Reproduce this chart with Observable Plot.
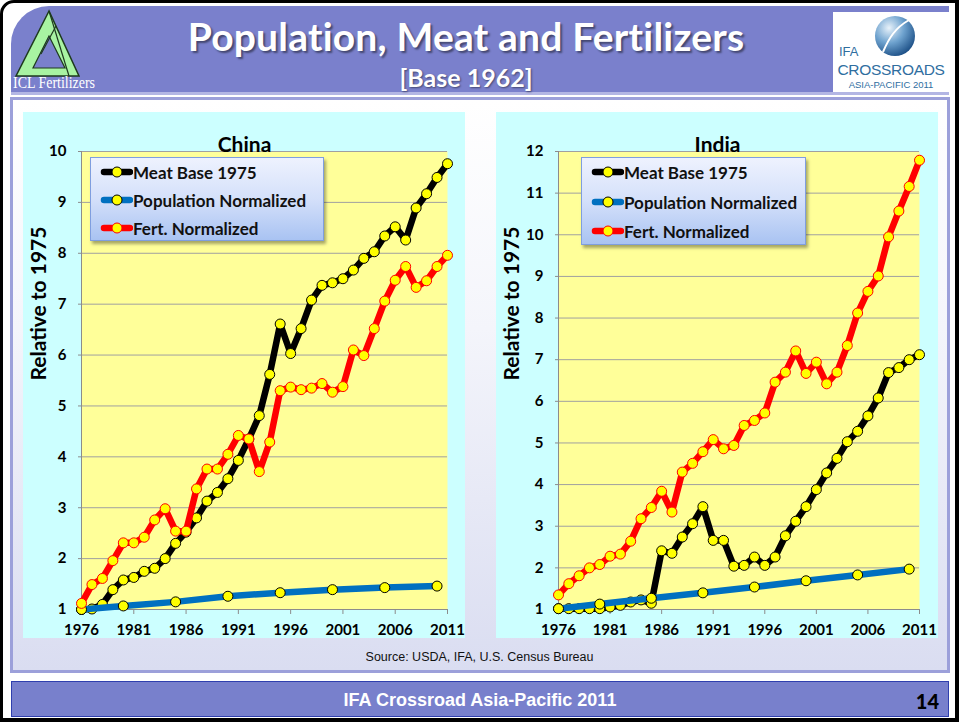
<!DOCTYPE html>
<html>
<head>
<meta charset="utf-8">
<script src="https://cdn.jsdelivr.net/npm/d3@7"></script>
<script src="https://cdn.jsdelivr.net/npm/@observablehq/plot@0.6"></script>
<style>
  html, body { margin: 0; padding: 0; background: #fff; }
  #page { position: relative; width: 959px; height: 722px; overflow: hidden; background: #fff; }
  #frame { position: absolute; left: 0; top: 0; width: 959px; height: 722px; box-sizing: border-box;
           border: 3px solid #000; border-right-width: 4px; border-bottom-width: 4px; border-top-left-radius: 14px; }
  #header { position: absolute; left: 11px; top: 6px; width: 938px; height: 86px; background: #7A80CC;
            border-top-left-radius: 38px; border-bottom: 3px solid #B3B6E4; }
  #title { position: absolute; left: 0; width: 910px; top: 7px; text-align: center; color: #fff;
           font-family: Lato, sans-serif; font-weight: 700; font-size: 39px; letter-spacing: 0.2px; text-shadow: 2px 2px 2px rgba(0,0,0,0.45); }
  #subtitle { position: absolute; left: 0; width: 910px; top: 56px; text-align: center; color: #fff;
           font-family: Lato, sans-serif; font-weight: 700; font-size: 25px; text-shadow: 1px 1px 2px rgba(0,0,0,0.45); }
  #content { position: absolute; left: 10px; top: 97px; width: 940px; height: 576px; box-sizing: border-box;
             border: 3px solid #9CA0DA; background: linear-gradient(to bottom, #ffffff 0%, #f4f5fb 40%, #DADDF1 100%); }
  .panel { position: absolute; top: 112px; }
  .legend { position: absolute; box-sizing: border-box; border: 1px solid #7F9EDF;
            background: linear-gradient(to bottom, #EEF2FE 0%, #D4E0FA 50%, #A9C3F2 100%);
            box-shadow: 2px 3px 3px rgba(0,0,0,0.35); font-family: Lato, sans-serif; font-weight: 700; font-size: 17px; color: #111; }
  .legend .row { position: absolute; left: 9px; height: 20px; display: flex; align-items: center; white-space: nowrap; }
  #source { position: absolute; left: 0; width: 959px; top: 650px; text-align: center;
            font-family: "Liberation Sans", Arial, sans-serif; font-size: 12.5px; color: #111; }
  #footer { position: absolute; left: 11px; top: 681px; width: 938px; height: 36px; box-sizing: border-box;
            background: #7880CC; border: 1px solid #2F3FAE; }
  #footer .t { position: absolute; left: 0; width: 936px; top: 8px; text-align: center; color: #fff;
               font-family: "Liberation Sans", Arial, sans-serif; font-weight: 700; font-size: 18px; }
  #footer .n { position: absolute; right: 9px; top: 7px; color: #000; font-family: Lato, sans-serif; font-weight: 900; font-size: 20px; }
</style>
</head>
<body>
<div id="page">
  <div id="header">
    <svg style="position:absolute;left:0;top:0" width="100" height="86">
      <polygon points="38,5 5,70 68,70" fill="#A8F3A2" stroke="#1E3A1E" stroke-width="1.5"/>
      <polygon points="38,30 22,62 54,62" fill="#7A80CC" stroke="#1E3A1E" stroke-width="1.2"/>
      <line x1="38" y1="5" x2="58" y2="70" stroke="#1E3A1E" stroke-width="1.2"/>
      <line x1="45" y1="20" x2="30" y2="48" stroke="#1E3A1E" stroke-width="1.2"/>
      <text x="2" y="82" fill="#fff" font-family="'Liberation Serif', serif" font-size="16" textLength="82" lengthAdjust="spacingAndGlyphs">ICL Fertilizers</text>
    </svg>
    <div id="title">Population, Meat and Fertilizers</div>
    <div id="subtitle">[Base 1962]</div>
    <svg style="position:absolute;left:822px;top:6px" width="116" height="80">
      <defs>
        <radialGradient id="glob" cx="35%" cy="30%" r="75%">
          <stop offset="0" stop-color="#E8F2FA"/>
          <stop offset="0.5" stop-color="#6FA3CF"/>
          <stop offset="1" stop-color="#1C4F86"/>
        </radialGradient>
      </defs>
      <rect x="0" y="0" width="116" height="80" fill="#fff"/>
      <circle cx="62" cy="24" r="20" fill="url(#glob)"/>
      <path d="M50,40 C56,26 62,16 76,8" stroke="#fff" stroke-width="2" fill="none"/>
      <text x="6" y="44" fill="#2F6E9F" font-family="'Liberation Sans', Arial, sans-serif" font-size="13">IFA</text>
      <text x="58" y="63" text-anchor="middle" fill="#2F6E9F" font-family="'Liberation Sans', Arial, sans-serif" font-size="15.5" letter-spacing="-0.3">CROSSROADS</text>
      <text x="58" y="76" text-anchor="middle" fill="#2F6E9F" font-family="'Liberation Sans', Arial, sans-serif" font-size="9.5">ASIA-PACIFIC 2011</text>
    </svg>
  </div>
  <div id="content"></div>
  <div id="chinaPanel" class="panel" style="left:23px"></div>
  <div id="indiaPanel" class="panel" style="left:496px"></div>
  <div id="source">Source: USDA, IFA, U.S. Census Bureau</div>
  <div id="footer"><div class="t">IFA Crossroad Asia-Pacific 2011</div><div class="n">14</div></div>
  <div id="frame"></div>
</div>
<script>
// ---- data ----
const years = [1976,1977,1978,1979,1980,1981,1982,1983,1984,1985,1986,1987,1988,1989,1990,1991,1992,1993,
               1994,1995,1996,1997,1998,1999,2000,2001,2002,2003,2004,2005,2006,2007,2008,2009,2010,2011];
const popYears = [1976,1980,1985,1990,1995,2000,2005,2010];
const xTickYears = [1976,1981,1986,1991,1996,2001,2006,2011];
const seriesNames = ["Meat Base 1975","Population Normalized","Fert. Normalized"];

const chinaMeat = [1.0,1.01,1.1,1.39,1.58,1.63,1.75,1.81,2.0,2.3,2.52,2.8,3.13,3.3,3.57,3.93,4.35,4.81,
                   5.62,6.61,6.03,6.52,7.08,7.37,7.42,7.5,7.67,7.9,8.03,8.34,8.52,8.26,8.89,9.17,9.49,9.76];
const chinaFert = [1.12,1.49,1.61,1.96,2.31,2.31,2.42,2.76,2.98,2.54,2.54,3.37,3.76,3.76,4.05,4.42,4.35,3.71,
                   4.29,5.3,5.37,5.32,5.35,5.44,5.27,5.38,6.1,5.99,6.52,7.06,7.47,7.74,7.33,7.46,7.74,7.96];
const chinaPop  = [1.0,1.07,1.15,1.26,1.33,1.39,1.43,1.46];
const chinaYTicks = [1,2,3,4,5,6,7,8,9,10];

const indiaMeat = [1.02,1.02,1.02,1.02,1.02,1.06,1.1,1.18,1.23,1.15,2.41,2.35,2.74,3.06,3.47,2.66,2.66,2.04,
                   2.06,2.26,2.06,2.26,2.77,3.12,3.47,3.88,4.28,4.63,5.03,5.28,5.65,6.08,6.69,6.81,7.0,7.12];
const indiaFert = [1.35,1.62,1.81,2.0,2.08,2.28,2.33,2.64,3.18,3.45,3.84,3.34,4.3,4.51,4.79,5.08,4.86,4.94,
                   5.42,5.54,5.72,6.46,6.7,7.21,6.67,6.94,6.42,6.7,7.34,8.12,8.64,9.01,9.95,10.57,11.16,11.79];
const indiaPop  = [1.02,1.13,1.27,1.4,1.54,1.69,1.83,1.97];
const indiaYTicks = [1,2,3,4,5,6,7,8,9,10,11,12];

const colors = {meat: "#000000", pop: "#0070C0", fert: "#FF0000"};
const markerStroke = {meat: "#000000", pop: "#000000", fert: "#FF0000"};

function panel(title, meat, pop, fert, yTicks, ml, mr, yLabelDx) {
  const meatD = years.map((x, i) => ({x, y: meat[i]}));
  const fertD = years.map((x, i) => ({x, y: fert[i]}));
  const popD = popYears.map((x, i) => ({x, y: pop[i]}));
  const W = 442, H = 526;
  const plotCenterShift = ((ml + (W - mr)) / 2) - W / 2;
  const lineOpts = (c) => ({x: "x", y: "y", stroke: c, strokeWidth: 6.5, strokeLinejoin: "round", strokeLinecap: "round"});
  const dotOpts = (s) => ({x: "x", y: "y", r: 5, fill: "#FFFF00", stroke: s, strokeWidth: 1});
  return Plot.plot({
    width: W, height: H,
    marginLeft: ml, marginRight: mr, marginTop: 39, marginBottom: 29,
    style: {background: "#CCFFFF", fontFamily: "Lato, sans-serif", fontWeight: "bold", fontSize: "15px", color: "#000", overflow: "visible"},
    x: {domain: [years[0], years[years.length - 1]], label: null},
    y: {domain: [yTicks[0], yTicks[yTicks.length - 1]], label: null},
    marks: [
      Plot.frame({fill: "#FFFF99", stroke: null}),
      Plot.gridY(yTicks, {stroke: "#A0A0A0", strokeOpacity: 1, strokeWidth: 1}),
      Plot.ruleX([years[0]], {stroke: "#8C8C8C", strokeWidth: 1}),
      Plot.ruleY([yTicks[0]], {stroke: "#8C8C8C", strokeWidth: 1}),
      Plot.axisX(xTickYears, {tickSize: 5, tickPadding: 10, tickFormat: d => String(d), stroke: "#8C8C8C", fill: "#000", label: null}),
      Plot.axisY(yTicks, {tickSize: 3, tickPadding: 12, tickFormat: d => String(d), stroke: "#8C8C8C", fill: "#000", label: null}),
      Plot.line(meatD, lineOpts(colors.meat)),
      Plot.dot(meatD, dotOpts(markerStroke.meat)),
      Plot.line(popD, lineOpts(colors.pop)),
      Plot.dot(popD, dotOpts(markerStroke.pop)),
      Plot.line(fertD, lineOpts(colors.fert)),
      Plot.dot(fertD, dotOpts(markerStroke.fert)),
      Plot.text([title], {frameAnchor: "top", dx: -plotCenterShift, dy: -14, fontSize: 21, fontWeight: "bold", fill: "#000"}),
      Plot.text(["Relative to 1975"], {frameAnchor: "left", dx: yLabelDx, rotate: -90, fontSize: 21, fontWeight: "bold", fill: "#000"})
    ]
  });
}

function legend(parent, left, top, width, height, rowTops) {
  const box = document.createElement("div");
  box.className = "legend";
  Object.assign(box.style, {left: left + "px", top: top + "px", width: width + "px", height: height + "px"});
  const keys = ["meat", "pop", "fert"];
  keys.forEach((k, i) => {
    const row = document.createElement("div");
    row.className = "row";
    row.style.top = rowTops[i] + "px";
    row.innerHTML = `<svg width="33" height="14"><line x1="4" y1="7" x2="30" y2="7" stroke="${colors[k]}" stroke-width="6.5" stroke-linecap="round"/>` +
      `<circle cx="17" cy="7" r="5" fill="#FFFF00" stroke="${markerStroke[k]}" stroke-width="1"/></svg><span>${seriesNames[i]}</span>`;
    box.appendChild(row);
  });
  parent.appendChild(box);
}

const page = document.getElementById("page");
document.getElementById("chinaPanel").appendChild(panel("China", chinaMeat, chinaPop, chinaFert, chinaYTicks, 58, 18, -42));
document.getElementById("indiaPanel").appendChild(panel("India", indiaMeat, indiaPop, indiaFert, indiaYTicks, 62, 19, -46));
legend(page, 90, 157, 234, 84, [4, 32, 60]);
legend(page, 581, 157, 225, 88, [4, 34, 63]);
</script>
</body>
</html>
